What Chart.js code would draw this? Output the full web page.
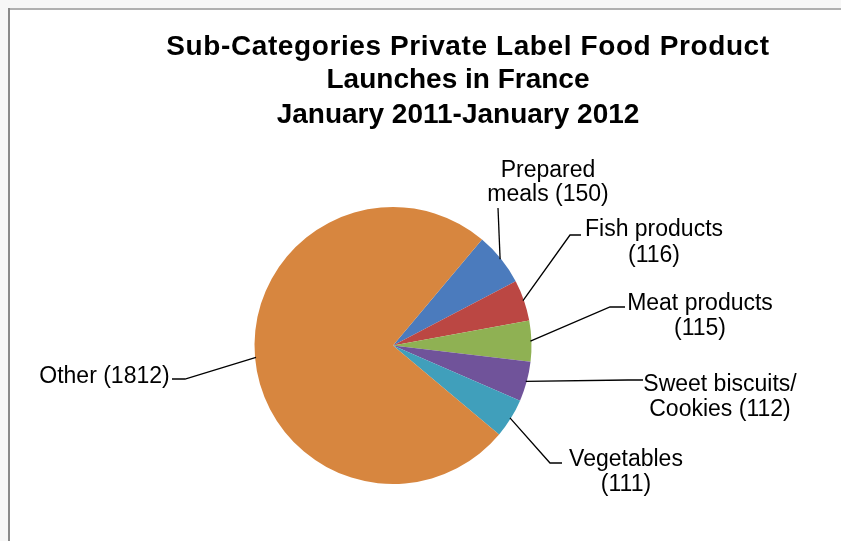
<!DOCTYPE html>
<html>
<head>
<meta charset="utf-8">
<script src="https://cdn.jsdelivr.net/npm/chart.js@4.4.0/dist/chart.umd.min.js"></script>
<style>
  html, body { margin: 0; padding: 0; background: #f7f7f7; }
  #wrap { position: absolute; left: 0; top: 0; width: 841px; height: 541px; }
</style>
</head>
<body>
<div id="wrap"><canvas id="c" width="841" height="541"></canvas></div>
<script>
// ---- data ----
const categories = ['Prepared meals', 'Fish products', 'Meat products', 'Sweet biscuits/ Cookies', 'Vegetables', 'Other'];
const launches = [150, 116, 115, 112, 111, 1812];
const titleLines = ['Sub-Categories Private Label Food Product', 'Launches in France', 'January 2011-January 2012'];

// ---- styles / layout ----
const sliceColors = ['#4b7bbd', '#bb4743', '#8fb153', '#70539a', '#409fbb', '#d7863f'];
const labelFont = '23px "Liberation Sans", Arial, sans-serif';
const titleFont = 'bold 28px "Liberation Sans", Arial, sans-serif';
// words before line break for each label (0 = single line)
const labelBreaks = [1, 2, 2, 2, 1, 0];
const labelLayout = [
  { cx: 548, base: [177, 201], elbow: [498, 208], end: [498, 208] },
  { cx: 654, base: [236, 262], elbow: [570, 235], end: [581, 235] },
  { cx: 700, base: [310, 335], elbow: [610, 307], end: [625, 307] },
  { cx: 720, base: [391, 416], elbow: [628, 380], end: [643, 380] },
  { cx: 626, base: [466, 491], elbow: [550, 463], end: [562, 463] },
  { cx: 104.5, base: [383], elbow: [185, 379], end: [172, 379] }
];
const titleLayout = [
  { cx: 468, base: 55, spacing: '0.6px' },
  { cx: 458, base: 88, spacing: '0px' },
  { cx: 458, base: 123, spacing: '0px' }
];

function labelLinesFor(i) {
  const text = categories[i] + ' (' + launches[i] + ')';
  const words = text.split(' ');
  const k = labelBreaks[i];
  if (!k) return [text];
  return [words.slice(0, k).join(' '), words.slice(k).join(' ')];
}

const framePlugin = {
  id: 'frame',
  beforeDraw(chart) {
    const ctx = chart.ctx;
    ctx.save();
    ctx.fillStyle = '#f7f7f7';
    ctx.fillRect(0, 0, chart.width, chart.height);
    ctx.fillStyle = '#ffffff';
    ctx.fillRect(10, 10, chart.width - 10, chart.height - 10);
    ctx.fillStyle = '#b0b0b0';
    ctx.fillRect(8, 8, chart.width - 8, 2);
    ctx.fillStyle = '#8a8a8a';
    ctx.fillRect(8, 8, 2, chart.height - 8);
    ctx.restore();
  }
};

const labelPlugin = {
  id: 'pieLabels',
  afterDatasetsDraw(chart) {
    const ctx = chart.ctx;
    const meta = chart.getDatasetMeta(0);
    ctx.save();
    ctx.strokeStyle = '#000';
    ctx.lineWidth = 1.3;
    meta.data.forEach((arc, i) => {
      const p = arc.getProps(['x', 'y', 'startAngle', 'endAngle', 'outerRadius'], true);
      const mid = (p.startAngle + p.endAngle) / 2;
      const r = p.outerRadius - 1;
      const sx = p.x + Math.cos(mid) * r;
      const sy = p.y + Math.sin(mid) * r;
      const L = labelLayout[i];
      ctx.beginPath();
      ctx.moveTo(sx, sy);
      ctx.lineTo(L.elbow[0], L.elbow[1]);
      ctx.lineTo(L.end[0], L.end[1]);
      ctx.stroke();
      ctx.fillStyle = '#000';
      ctx.font = labelFont;
      ctx.textAlign = 'center';
      ctx.textBaseline = 'alphabetic';
      labelLinesFor(i).forEach((line, j) => {
        ctx.fillText(line, L.cx, L.base[j]);
      });
    });
    ctx.restore();
  },
  afterDraw(chart) {
    const ctx = chart.ctx;
    ctx.save();
    ctx.fillStyle = '#000';
    ctx.font = titleFont;
    ctx.textAlign = 'center';
    ctx.textBaseline = 'alphabetic';
    titleLines.forEach((line, j) => {
      const t = titleLayout[j];
      if ('letterSpacing' in ctx) ctx.letterSpacing = t.spacing;
      ctx.fillText(line, t.cx, t.base);
    });
    ctx.restore();
  }
};

new Chart(document.getElementById('c'), {
  type: 'pie',
  data: {
    labels: categories,
    datasets: [{
      data: launches,
      backgroundColor: sliceColors,
      borderWidth: 0
    }]
  },
  options: {
    responsive: false,
    devicePixelRatio: 1,
    animation: false,
    rotation: 40,
    layout: { padding: { left: 254, right: 309, top: 207, bottom: 57 } },
    plugins: {
      legend: { display: false },
      title: { display: false },
      tooltip: { enabled: false }
    }
  },
  plugins: [framePlugin, labelPlugin]
});
</script>
</body>
</html>
